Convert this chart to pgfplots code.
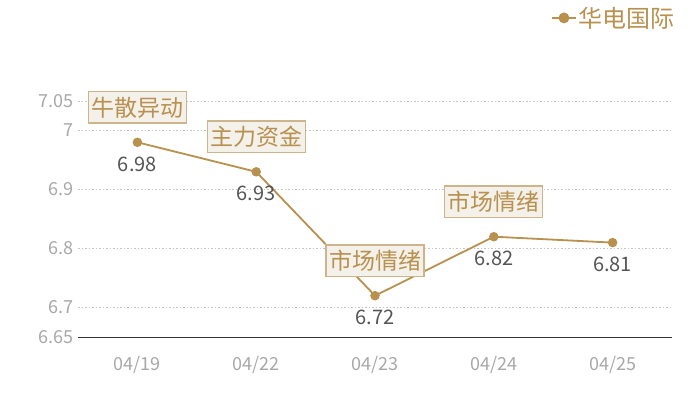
\documentclass[border=0pt]{standalone}
\usepackage{fontspec}
\setmainfont{Noto Sans CJK SC}
\usepackage{pgfplots}
\pgfplotsset{compat=1.18}
\definecolor{gold}{HTML}{B8914F}
\definecolor{boxfill}{HTML}{F4F0EA}
\definecolor{boxdraw}{HTML}{CDB48A}
\definecolor{valtext}{HTML}{555555}
\definecolor{ticktext}{HTML}{A8A8A8}
\definecolor{gridc}{HTML}{C4C4C4}
\newcommand\fs[1]{\fontsize{#1}{#1}\selectfont}

\begin{document}
\begin{tikzpicture}[x=1pt,y=1pt]
\path[use as bounding box] (0,0) rectangle (700,400);
\begin{axis}[
  at={(78pt,63pt)}, anchor=south west, scale only axis,
  width=594pt, height=236pt, clip=false,
  xmin=-0.5, xmax=4.5, ymin=6.65, ymax=7.05,
  axis x line*=bottom, axis y line*=left,
  y axis line style={draw=none},
  x axis line style={draw=black!80, line width=1pt, -},
  major tick length=0pt,
  /pgf/number format/assume math mode=true,
  ytick={6.65,6.7,6.8,6.9,7,7.05},
  yticklabels={6.65,6.7,6.8,6.9,7,7.05},
  ymajorgrids, grid style={dash pattern=on 1.5pt off 2pt, gridc, line width=0.7pt},
  xtick={0,1,2,3,4},
  xticklabels={04/19,04/22,04/23,04/24,04/25},
  tick label style={text=ticktext, font=\fs{18}},
  yticklabel style={xshift=-1pt},
  xticklabel style={yshift=-16pt},
  legend style={draw=none, fill=none, at={(rel axis cs:1.008,1.352)}, anchor=east,
    font=\fs{24}, text=gold, inner sep=0pt},
  legend image code/.code={\draw[gold, line width=1.2pt] (0pt,0pt) -- (24pt,0pt);
    \fill[gold] (12pt,0pt) circle (4.5pt);},
  nodes near coords,
  every node near coord/.append style={anchor=center, yshift=-22pt, text=valtext, font=\fs{20}},
]
\addplot[gold, line width=1.8pt, mark=*, mark size=3.8pt, mark options={fill=gold, draw=gold}]
  coordinates {(0,6.98) (1,6.93) (2,6.72) (3,6.82) (4,6.81)};
\addlegendentry{华电国际}
\tikzset{ann/.style={fill=boxfill, draw=boxdraw, line width=1.3pt, text=gold,
  font=\fs{23}, inner xsep=3pt, inner ysep=5pt, yshift=35pt}}
\node[ann] at (axis cs:0,6.98) {牛散异动};
\node[ann] at (axis cs:1,6.93) {主力资金};
\node[ann] at (axis cs:2,6.72) {市场情绪};
\node[ann] at (axis cs:3,6.82) {市场情绪};
\end{axis}
\end{tikzpicture}
\end{document}
